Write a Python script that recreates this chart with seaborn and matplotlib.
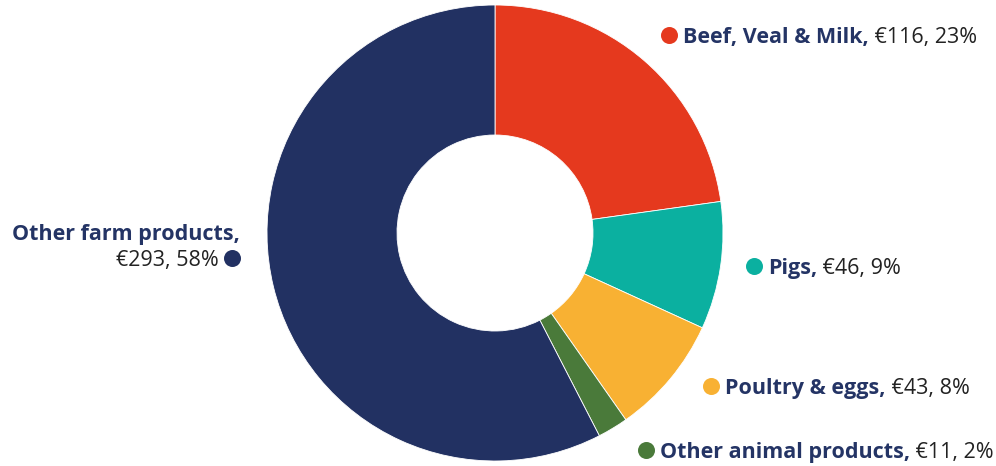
import matplotlib
matplotlib.use("Agg")
import matplotlib.pyplot as plt
import seaborn as sns

# Farm output by sector (€ billion)
categories = ["Beef, Veal & Milk", "Pigs", "Poultry & eggs", "Other animal products", "Other farm products"]
values = [116, 46, 43, 11, 293]
shares = ["23%", "9%", "8%", "2%", "58%"]
colors = ["#E5391E", "#0BB0A0", "#F8B133", "#4A7A3A", "#223162"]

sns.set_theme(style="white")
plt.rcParams["font.family"] = ["Open Sans", "DejaVu Sans"]

W, H = 996, 466
fig = plt.figure(figsize=(W / 100, H / 100), dpi=100)
ax = fig.add_axes([0, 0, 1, 1])

cx, cy, R, r_in = 495, H - 233, 228, 98
ax.pie(values, colors=colors, startangle=90, counterclock=False,
       center=(cx, cy), radius=R, frame=True,
       wedgeprops=dict(width=R - r_in, edgecolor="white", linewidth=0.6))
ax.set_xlim(0, W)
ax.set_ylim(0, H)
ax.set_aspect("equal")
ax.axis("off")

label_col = "#243465"
val_col = "#222222"

renderer = fig.canvas.get_renderer()


def px_width(t):
    return t.get_window_extent(renderer=renderer).width


# pick a font size so the first label line spans about 294 px
probe_b = ax.text(0, 0, categories[0] + ",", fontsize=15, fontweight="bold")
probe_r = ax.text(0, 0, f" €{values[0]}, {shares[0]}", fontsize=15)
w15 = px_width(probe_b) + px_width(probe_r)
probe_b.remove()
probe_r.remove()
fs = 15 * 294 / w15


def label(x_dot, y_px, name, value, share, color):
    y = H - y_px
    x0 = x_dot + 14
    bold = ax.text(x0, y, name + ",", fontsize=fs, fontweight="bold",
                   color=label_col, va="center_baseline")
    wb = px_width(bold)
    ax.text(x0 + wb, y, f" €{value}, {share}", fontsize=fs, color=val_col,
            va="center_baseline")
    ax.scatter([x_dot], [y], s=150, color=color, zorder=5, linewidths=0)


# right-hand labels
for i, (xd, yp) in enumerate([(669, 35), (754, 266), (711, 386), (646, 450)]):
    label(xd, yp, categories[i], values[i], shares[i], colors[i])

# left-hand label on two lines
ax.text(240, H - 232, categories[4] + ",", fontsize=fs, fontweight="bold",
        color=label_col, ha="right", va="center_baseline")
ax.text(219, H - 258, f"€{values[4]}, {shares[4]}", fontsize=fs, color=val_col,
        ha="right", va="center_baseline")
ax.scatter([232], [H - 258], s=150, color=colors[4], zorder=5, linewidths=0)

fig.savefig("out.png", dpi=100)
